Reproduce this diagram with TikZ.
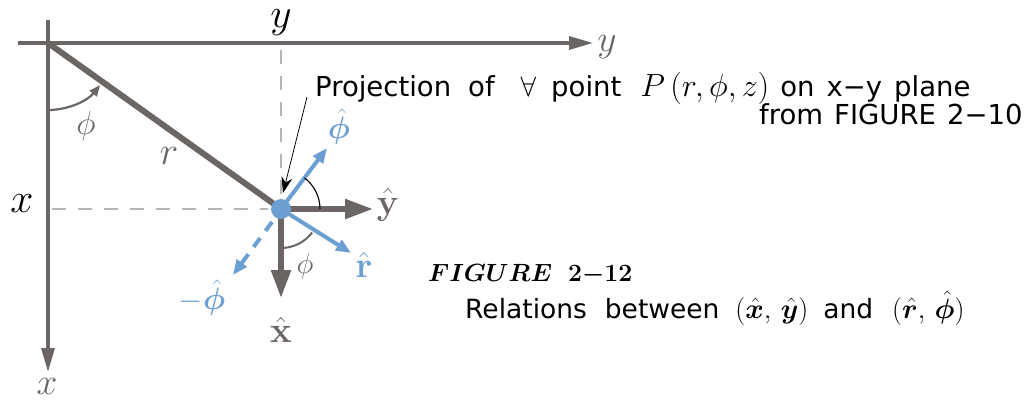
\documentclass[tikz,border=0pt]{standalone}
\usepackage[no-math]{fontspec}
\usepackage{amsmath,bm,graphicx}
\setmainfont{DejaVu Sans}
\usetikzlibrary{arrows.meta}
\definecolor{axgray}{HTML}{6B6563}
\definecolor{dashgray}{HTML}{B8B5B4}
\definecolor{vblue}{HTML}{6B9FD2}
\newcommand{\bigmath}[2]{{\fontsize{20}{24}\selectfont\scalebox{#1}{$#2$}}}
\tikzset{
  axisline/.style={draw=axgray, line width=3.4pt, -{Triangle[length=24pt,width=13pt]}},
  gvec/.style={draw=axgray, line width=5.5pt, -{Triangle[length=28pt,width=19pt]}},
  bvec/.style={draw=vblue, line width=4pt, -{Triangle[length=15pt,width=12pt]}},
  guide/.style={draw=dashgray, line width=2.6pt, dash pattern=on 14pt off 12pt},
  mlab/.style={font=\fontsize{20}{24}\selectfont, inner sep=0pt},
  txt/.style={font=\fontsize{27.5}{32}\selectfont, inner sep=0pt},
}
\begin{document}
\begin{tikzpicture}[x=1pt,y=1pt]
\useasboundingbox (0,0) rectangle (1029,-401);
% key points
\coordinate (O) at (48,-43);
\coordinate (P) at (281,-209);
\coordinate (hstart) at (18,-43);
\coordinate (htip) at (593,-43);
\coordinate (vstart) at (48,-20);
\coordinate (vtip) at (48,-372);
\coordinate (dvtop) at (281,-50);
\coordinate (dvbot) at (281,-196);
\coordinate (dhl) at (52,-209);
\coordinate (dhr) at (268,-209);
\coordinate (yhat) at (373,-209);
\coordinate (xhat) at (281,-298);
\coordinate (rhat) at (351,-253);
\coordinate (phat) at (327,-148);
\coordinate (mphat) at (233,-275);
\coordinate (projstart) at (307,-97);
% dashed guides
\draw[guide] (dvtop) -- (dvbot);
\draw[guide] (dhl) -- (dhr);
% axes
\draw[axisline] (hstart) -- (htip);
\draw[axisline] (vstart) -- (vtip);
\node[mlab, text=axgray, scale=1.8] (ylabax) at (607,-47) {$y$};
\node[mlab, text=axgray, scale=1.8] (xlabax) at (47,-386) {$x$};
% r line
\draw[axgray, line width=6pt] (O) -- (P);
\node[mlab, text=axgray, scale=1.9] (rlab) at (169,-156) {$r$};
% phi arc at origin
\draw[axgray, line width=2.2pt, -{Triangle[length=11pt,width=9pt]}] ([shift={(-90:67)}]O) arc[start angle=-90, end angle=-39, radius=67];
\node[mlab, text=axgray, scale=1.6] (philab0) at (86,-126) {$\phi$};
% big labels
\node[mlab, scale=2.0] (ytop) at (281,-23) {$y$};
\node[mlab, scale=2.0] (xleft) at (22,-204) {$x$};
% blue vectors
\draw[bvec, dash pattern=on 11pt off 9pt] ([shift={(-9,-13)}]P) -- (mphat);
\draw[bvec] (P) -- (phat);
\draw[bvec] (P) -- (rhat);
% gray vectors
\draw[gvec] (P) -- (yhat);
\draw[gvec] (P) -- (xhat);
% angle arcs at P
\draw[axgray, line width=2pt] ([shift={(-90:39)}]P) arc[start angle=-90, end angle=-37, radius=39];
\draw[black, line width=1.1pt] ([shift={(0:39)}]P) arc[start angle=0, end angle=53, radius=39];
\node[mlab, text=axgray, scale=1.4] (philabP) at (305,-266) {$\phi$};
% blue dot
\fill[vblue] (P) circle (10);
% vector labels
\node[mlab, text=axgray, scale=1.75] (ylabhat) at (388,-205) {$\hat{\mathbf{y}}$};
\node[mlab, text=axgray, scale=1.75] (xlabhat) at (281,-330) {$\hat{\mathbf{x}}$};
\node[mlab, text=vblue, scale=1.75] (rlabhat) at (364,-265) {$\hat{\mathbf{r}}$};
\node[mlab, text=vblue, scale=1.5] (plabhat) at (339,-127) {$\hat{\bm{\phi}}$};
\node[mlab, text=vblue, scale=1.5] (mplabhat) at (202,-298) {$-\hat{\bm{\phi}}$};
% projection annotation
\node[txt, anchor=base west] (proj) at (315,-97) {Projection\hspace{17pt}of\hspace{26pt}\bigmath{1.35}{\forall}\hspace{15pt}point\hspace{19pt}\bigmath{1.55}{P\,(r,\phi,z)}\hspace{11pt}on\hspace{12pt}x−y\hspace{12pt}plane};
\node[txt, anchor=base west] (from) at (759,-125) {from\hspace{11pt}FIGURE\hspace{11pt}2−10};
\draw[black, line width=0.8pt, -{Stealth[length=16pt,width=11pt]}] (projstart) -- ([shift={(2,16)}]P);
% caption
\node[anchor=base west, inner sep=0pt, font=\fontsize{24}{28}\selectfont] (fig) at (428,-281) {$\boldsymbol{FIGURE}$\hspace{16pt}$\mathbf{2}{\boldsymbol{-}}\mathbf{12}$};
\node[anchor=base west, inner sep=0pt, font=\fontsize{26.5}{30}\selectfont] (rel) at (465,-318) {Relations\hspace{18pt}between\hspace{16pt}\bigmath{1.35}{(\hat{\bm{x}},\,\hat{\bm{y}})}\hspace{15pt}and\hspace{19pt}\bigmath{1.35}{(\hat{\bm{r}},\,\hat{\bm{\phi}})}};
\end{tikzpicture}
\end{document}
